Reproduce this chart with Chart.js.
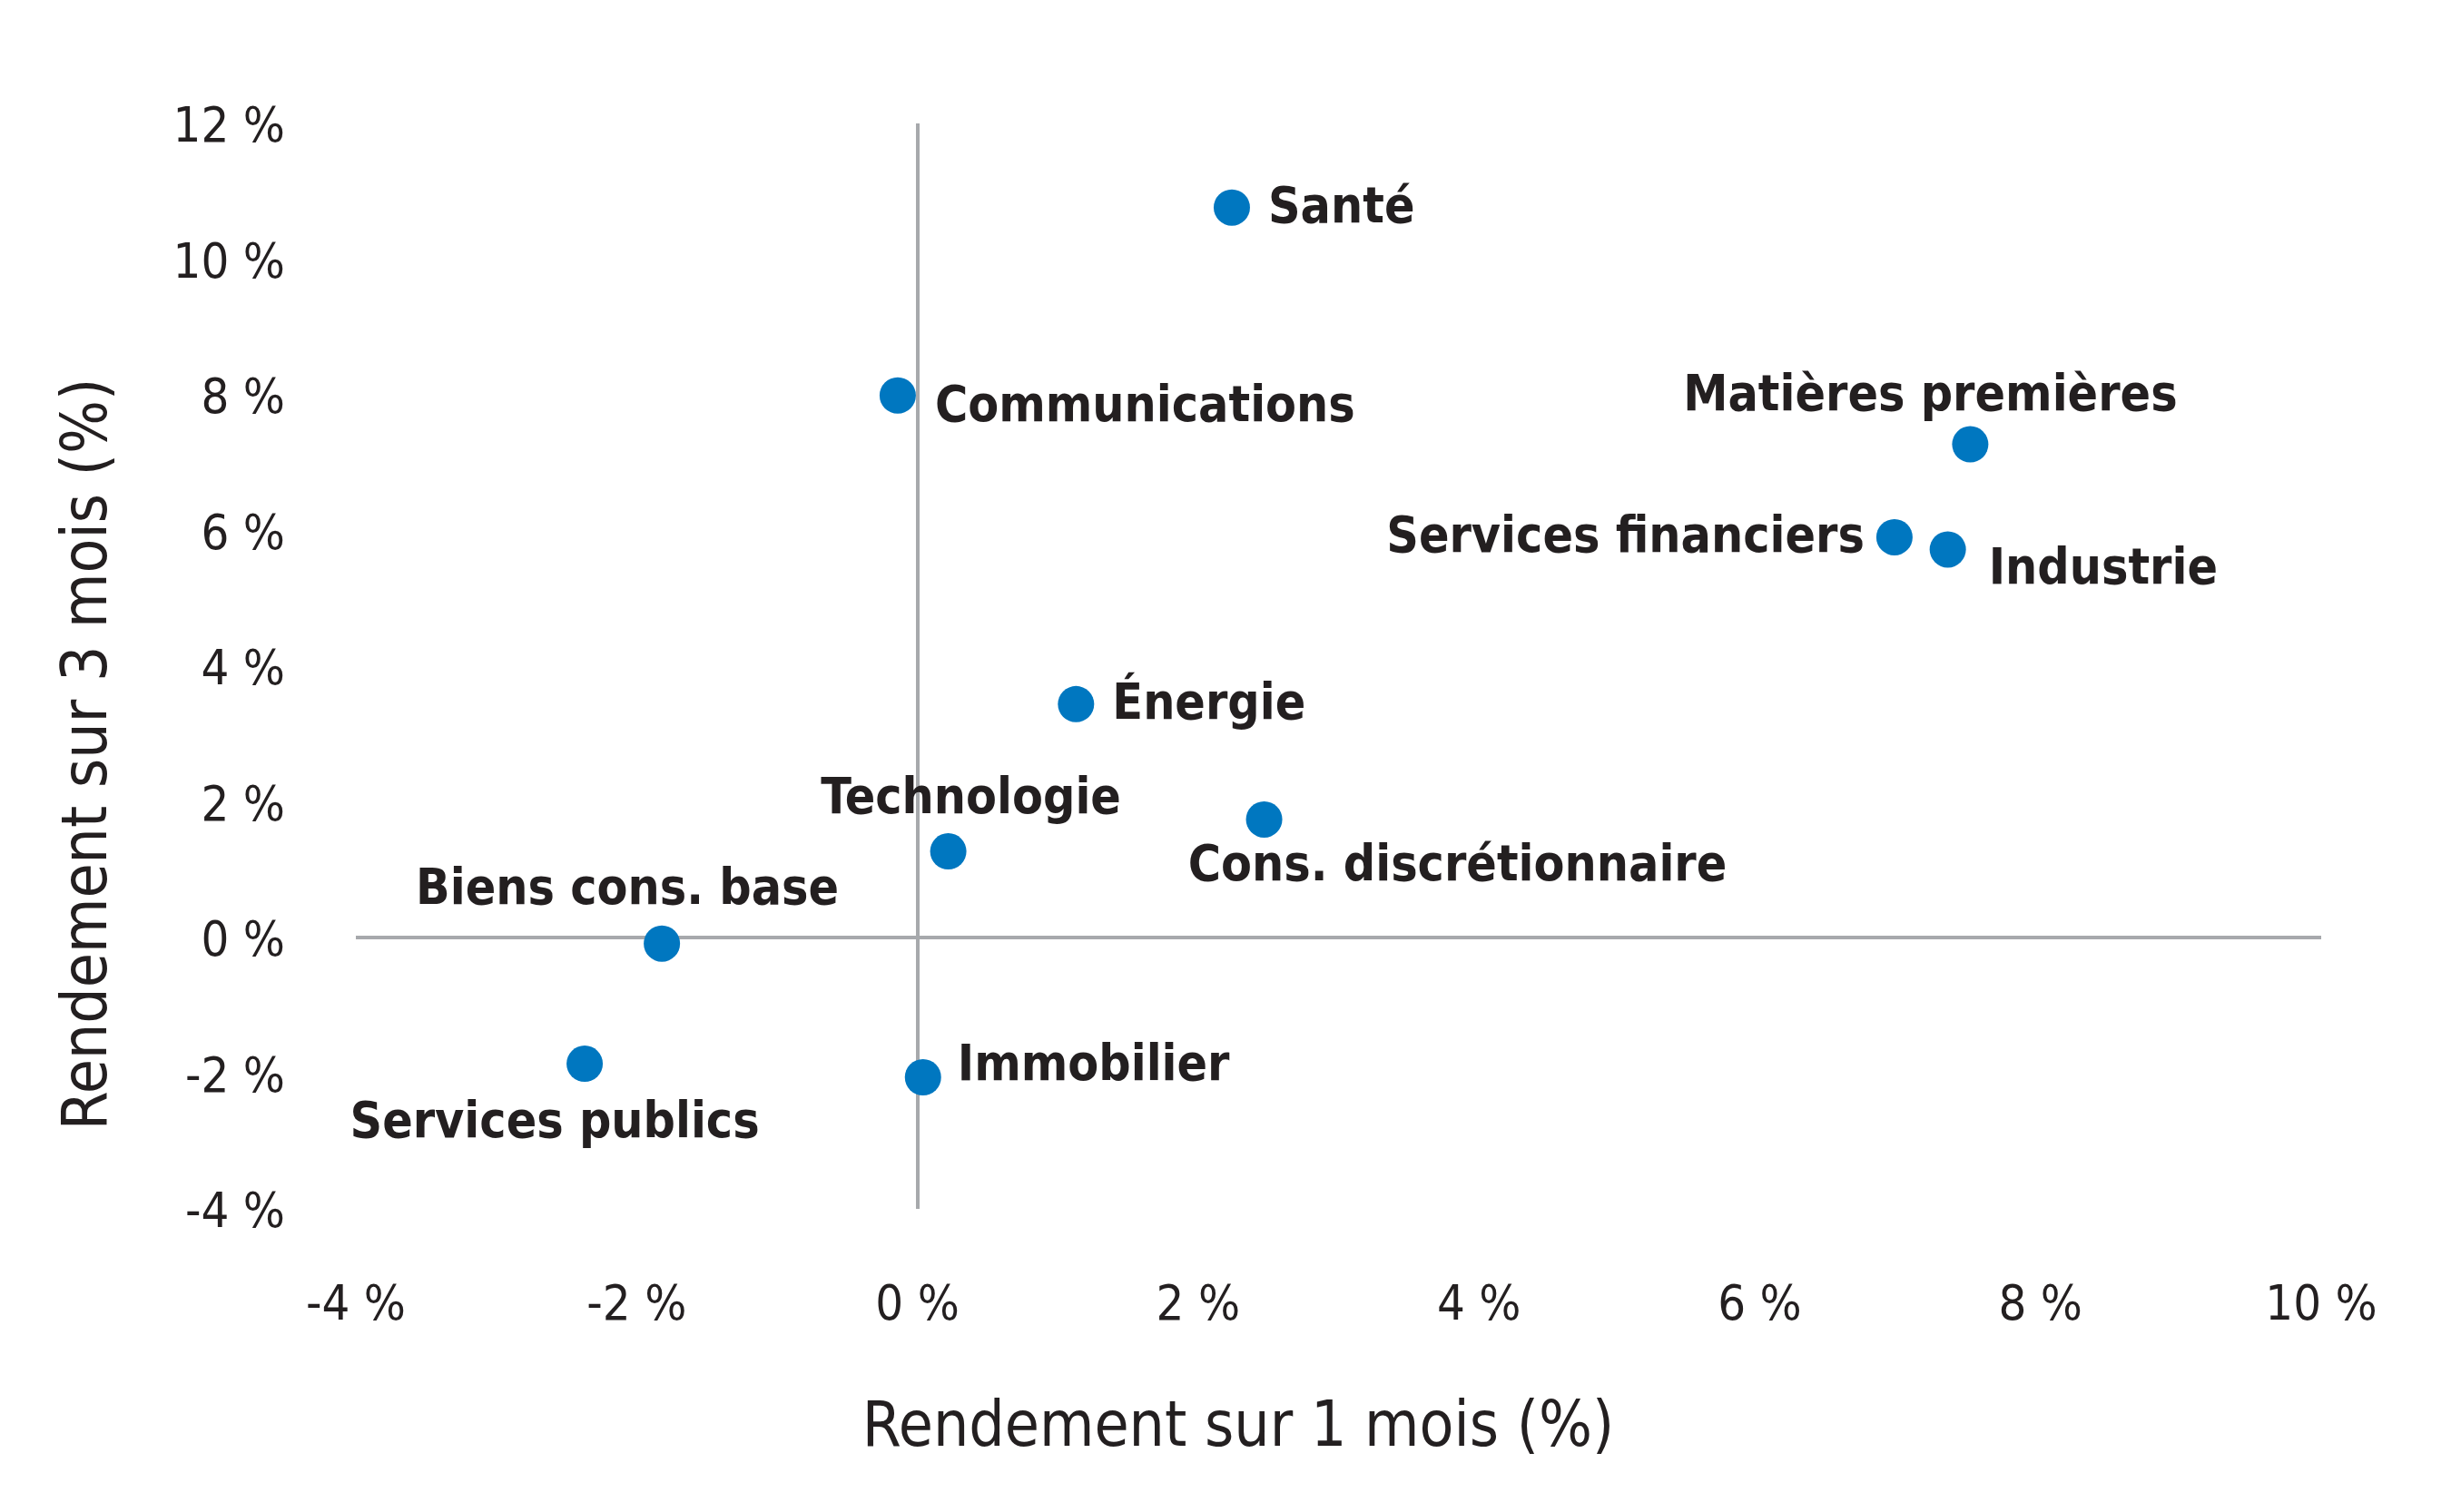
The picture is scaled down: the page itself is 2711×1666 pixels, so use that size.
<!DOCTYPE html>
<html><head><meta charset="utf-8">
<script src="https://cdn.jsdelivr.net/npm/chart.js@4/dist/chart.umd.min.js"></script>
<style>html,body{margin:0;padding:0;background:#fff;}#wrap{width:2711px;height:1666px;}</style>
</head><body><div id="wrap"><canvas id="c" width="2711" height="1666"></canvas></div>
<script>
// ---- data ----
const sectors = ["Santé","Communications","Matières premières","Services financiers","Industrie","Énergie","Technologie","Cons. discrétionnaire","Biens cons. base","Services publics","Immobilier"];
const oneMonth = [2.24,-0.14,7.50,6.96,7.34,1.13,0.22,2.47,-1.82,-2.37,0.04];
const threeMonth = [10.76,7.99,7.27,5.90,5.72,3.44,1.27,1.74,-0.09,-1.86,-2.06];
const xTicks = [-4,-2,0,2,4,6,8,10];
const yTicks = [-4,-2,0,2,4,6,8,10,12];
const xTitle = "Rendement sur 1 mois (%)";
const yTitle = "Rendement sur 3 mois (%)";

// ---- label placement (style) ----
const labelPlace = [
  {align:'left',dx:40,dy:2},
  {align:'left',dx:41,dy:14},
  {align:'center',dx:-44,dy:-52},
  {align:'right',dx:-33,dy:2},
  {align:'left',dx:45,dy:23},
  {align:'left',dx:40,dy:2},
  {align:'center',dx:25,dy:-56},
  {align:'center',dx:213,dy:53},
  {align:'center',dx:-38,dy:-58},
  {align:'center',dx:-33,dy:67},
  {align:'left',dx:38,dy:-11}
];

const FONT = '"Liberation Sans Narrow","DejaVu Sans Condensed","Roboto Condensed","Open Sans",sans-serif';
const TXT = '#231F20';
const GRID = '#A7A9AC';

const pointLabels = {
  id:'pointLabels',
  afterDatasetsDraw(chart){
    const ctx = chart.ctx;
    const meta = chart.getDatasetMeta(0);
    ctx.save();
    ctx.fillStyle = TXT;
    ctx.font = 'bold 55px ' + FONT;
    ctx.textBaseline = 'middle';
    meta.data.forEach((pt,i)=>{
      const p = labelPlace[i];
      ctx.textAlign = p.align;
      ctx.fillText(sectors[i], pt.x + p.dx, pt.y + p.dy);
    });
    ctx.restore();
  }
};
const axisTitles = {
  id:'axisTitles',
  afterDraw(chart){
    const ctx = chart.ctx;
    ctx.save();
    ctx.fillStyle = TXT;
    ctx.font = '69px ' + FONT;
    ctx.textAlign = 'center';
    ctx.textBaseline = 'middle';
    ctx.fillText(xTitle, 1364, 1575);
    ctx.translate(99, 831);
    ctx.rotate(-Math.PI/2);
    ctx.fillText(yTitle, 0, 0);
    ctx.restore();
  }
};

const pts = oneMonth.map((x,i)=>({x:x,y:threeMonth[i]}));
const gridOpts = {
  color: c => (c.tick && c.tick.value === 0) ? GRID : 'rgba(0,0,0,0)',
  lineWidth: 4,
  drawTicks: false
};
new Chart(document.getElementById('c'), {
  type:'scatter',
  data:{datasets:[{data:pts,backgroundColor:'#0077C0',borderColor:'#0077C0',pointRadius:20,pointHoverRadius:20,borderWidth:0}]},
  options:{
    responsive:false, devicePixelRatio:1, animation:false,
    layout:{padding:{top:136,right:154,left:0,bottom:0}},
    plugins:{legend:{display:false},tooltip:{enabled:false}},
    scales:{
      x:{type:'linear',min:xTicks[0],max:xTicks[xTicks.length-1],
         afterBuildTicks: s => { s.ticks = xTicks.map(v=>({value:v})); },
         afterFit: s => { s.height = 334; },
         grid:gridOpts, border:{display:false},
         ticks:{color:TXT,padding:76,font:{family:FONT,size:54},callback:v=>v+' %',maxRotation:0,autoSkip:false}},
      y:{type:'linear',min:yTicks[0],max:yTicks[yTicks.length-1],
         afterBuildTicks: s => { s.ticks = yTicks.map(v=>({value:v})); },
         afterFit: s => { s.width = 392; },
         grid:gridOpts, border:{display:false},
         ticks:{color:TXT,padding:78,labelOffset:6,font:{family:FONT,size:54},callback:v=>v+' %',autoSkip:false}}
    }
  },
  plugins:[pointLabels,axisTitles]
});
</script></body></html>
